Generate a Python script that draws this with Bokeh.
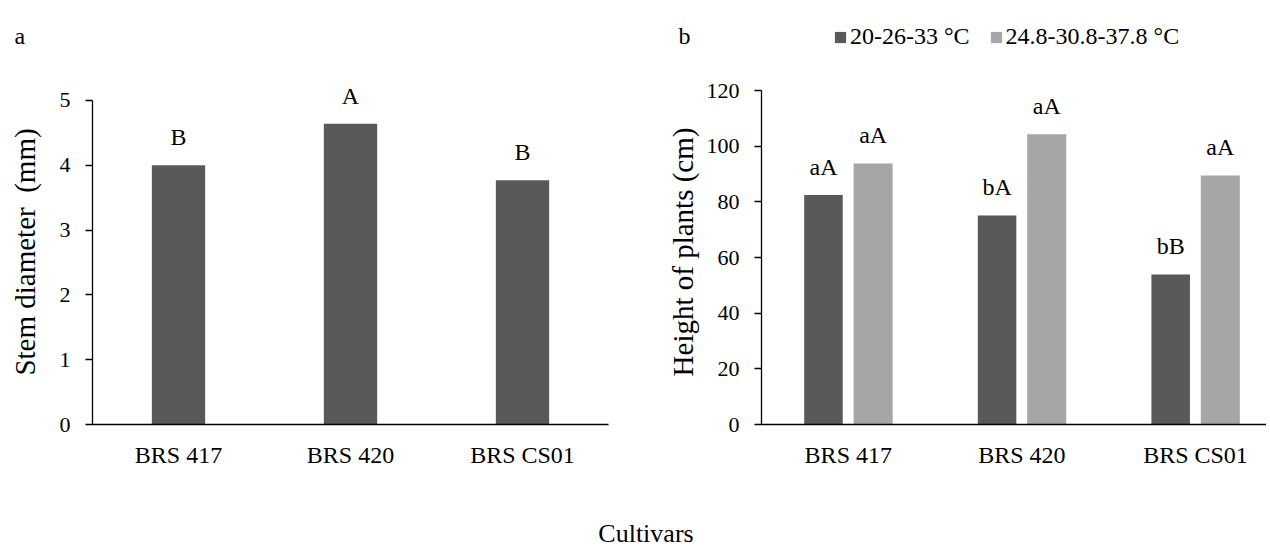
from bokeh.plotting import figure
from bokeh.models import (Range1d, FactorRange, FixedTicker, Label, Legend,
                          LegendItem, Div, ColumnDataSource)
from bokeh.layouts import row, column
from bokeh.embed import file_html
from bokeh.resources import INLINE
from bokeh.core.properties import value

# ---------------- data ----------------
cultivars = ["BRS 417", "BRS 420", "BRS CS01"]

stem_diameter = [4.00, 4.64, 3.77]
stem_letters = ["B", "A", "B"]
stem_ticks = [0, 1, 2, 3, 4, 5]

series_names = ["20-26-33 \u00b0C", "24.8-30.8-37.8 \u00b0C"]
height_low = [82.5, 75.1, 53.9]
height_high = [93.8, 104.3, 89.5]
letters_low = ["aA", "bA", "bB"]
letters_high = ["aA", "aA", "aA"]
height_ticks = [0, 20, 40, 60, 80, 100, 120]

# ---------------- style ----------------
FONT = "Liberation Serif"
DARK = "#595959"
LIGHT = "#A6A6A6"
TOTAL_W = 1266
HEAD_H = 60
TOP_B = 19        # border above both frames (frames aligned by the row)
FRAME_H = 345
BOT_B = 48
LBL_OFF = -28


def style_axes(p, ylabel, label_standoff, xstandoff, ybounds):
    p.xgrid.grid_line_color = None
    p.ygrid.grid_line_color = None
    p.outline_line_color = None
    for ax in (p.xaxis[0], p.yaxis[0]):
        ax.axis_line_color = "black"
        ax.axis_line_width = 1.3
        ax.major_label_text_font = FONT
        ax.major_label_text_color = "black"
        ax.minor_tick_line_color = None
    xa = p.xaxis[0]
    xa.major_tick_line_color = None
    xa.major_tick_out = 0
    xa.major_tick_in = 0
    xa.major_label_text_font_size = "24px"
    xa.major_label_standoff = xstandoff
    ya = p.yaxis[0]
    ya.bounds = ybounds
    ya.major_tick_line_color = "black"
    ya.major_tick_line_width = 1.3
    ya.major_tick_out = 7
    ya.major_tick_in = 0
    ya.major_label_standoff = 15
    ya.major_label_text_font_size = "22px"
    ya.axis_label = ylabel
    ya.axis_label_text_font = FONT
    ya.axis_label_text_font_style = "normal"
    ya.axis_label_text_font_size = "29px"
    ya.axis_label_text_color = "black"
    ya.axis_label_standoff = label_standoff


# ---------------- header strip (panel letters + legend) ----------------
head = figure(width=TOTAL_W, height=HEAD_H,
              x_range=Range1d(0, TOTAL_W), y_range=Range1d(0, HEAD_H),
              x_axis_type=None, y_axis_type=None,
              output_backend="svg", toolbar_location=None,
              min_border=0, outline_line_color=None)
for txt, xx in (("a", 14), ("b", 678)):
    head.add_layout(Label(x=xx, y=HEAD_H - 35, text=txt, text_font=FONT,
                          text_font_size="24px", text_color="black",
                          text_baseline="alphabetic"))
# legend-only renderers (one NaN row so nothing is drawn in the strip)
swatch = ColumnDataSource(dict(x=[float("nan")], top=[float("nan")]))
h_low = head.vbar(x="x", top="top", width=1, source=swatch,
                  fill_color=DARK, line_color=None)
h_high = head.vbar(x="x", top="top", width=1, source=swatch,
                   fill_color=LIGHT, line_color=None)
legend = Legend(items=[LegendItem(label=series_names[0], renderers=[h_low]),
                       LegendItem(label=series_names[1], renderers=[h_high])],
                orientation="horizontal", location=(833, 10),
                padding=0, margin=0, spacing=19, label_standoff=3,
                glyph_width=14, glyph_height=14,
                border_line_color=None, background_fill_alpha=0,
                label_text_font=FONT, label_text_font_size="24px",
                label_text_color="black")
head.add_layout(legend)

FIG_H = TOP_B + FRAME_H + BOT_B

# ---------------- panel a ----------------
p1 = figure(width=660, height=FIG_H,
            x_range=FactorRange(*cultivars, range_padding=0),
            y_range=Range1d(0, 5.324),
            output_backend="svg", toolbar_location=None,
            min_border_left=92, min_border_right=52,
            min_border_top=TOP_B, min_border_bottom=BOT_B)
src1 = ColumnDataSource(dict(x=cultivars, top=stem_diameter, lab=stem_letters))
p1.vbar(x="x", top="top", width=0.31, source=src1,
        fill_color=DARK, line_color=None)
p1.text(x="x", y="top", text="lab", source=src1, y_offset=LBL_OFF,
        text_align="center", text_baseline="alphabetic",
        text_font=value(FONT), text_font_size="24px", text_color="black")
p1.yaxis[0].ticker = FixedTicker(ticks=stem_ticks)
style_axes(p1, "Stem diameter\u00a0\u00a0(mm)", 16, 17,
           (stem_ticks[0], stem_ticks[-1]))

# ---------------- panel b ----------------
x_pos = [i + 0.5 for i in range(len(cultivars))]
x_end = 2.909
p2 = figure(width=TOTAL_W - 660, height=FIG_H,
            x_range=Range1d(0, x_end), y_range=Range1d(0, 123.96),
            output_backend="svg", toolbar_location=None,
            min_border_left=101, min_border_right=0,
            min_border_top=TOP_B, min_border_bottom=BOT_B)
off = 0.143
src2 = ColumnDataSource(dict(
    xl=[x - off for x in x_pos], xh=[x + off for x in x_pos],
    low=height_low, high=height_high,
    llow=letters_low, lhigh=letters_high))
p2.vbar(x="xl", top="low", width=0.222, source=src2,
        fill_color=DARK, line_color=None)
p2.vbar(x="xh", top="high", width=0.225, source=src2,
        fill_color=LIGHT, line_color=None)
p2.text(x="xl", y="low", text="llow", source=src2, y_offset=LBL_OFF,
        text_align="center", text_baseline="alphabetic",
        text_font=value(FONT), text_font_size="24px", text_color="black")
p2.text(x="xh", y="high", text="lhigh", source=src2, y_offset=LBL_OFF,
        text_align="center", text_baseline="alphabetic",
        text_font=value(FONT), text_font_size="24px", text_color="black")
p2.xaxis[0].ticker = FixedTicker(ticks=x_pos)
p2.xaxis[0].major_label_overrides = {x: c for x, c in zip(x_pos, cultivars)}
p2.yaxis[0].ticker = FixedTicker(ticks=height_ticks)
style_axes(p2, "Height of plants (cm)", 5, 17,
           (height_ticks[0], height_ticks[-1]))

caption = Div(
    text=('<div style="width:1266px;box-sizing:border-box;text-align:center;'
          'padding-left:16px;padding-top:44px;font-family:\'Liberation Serif\';'
          'font-size:26px;line-height:26px;color:black;">Cultivars</div>'),
    width=TOTAL_W, height=70)

layout = column(head, row(p1, p2), caption)

open("out.html", "w").write(file_html(layout, INLINE))
